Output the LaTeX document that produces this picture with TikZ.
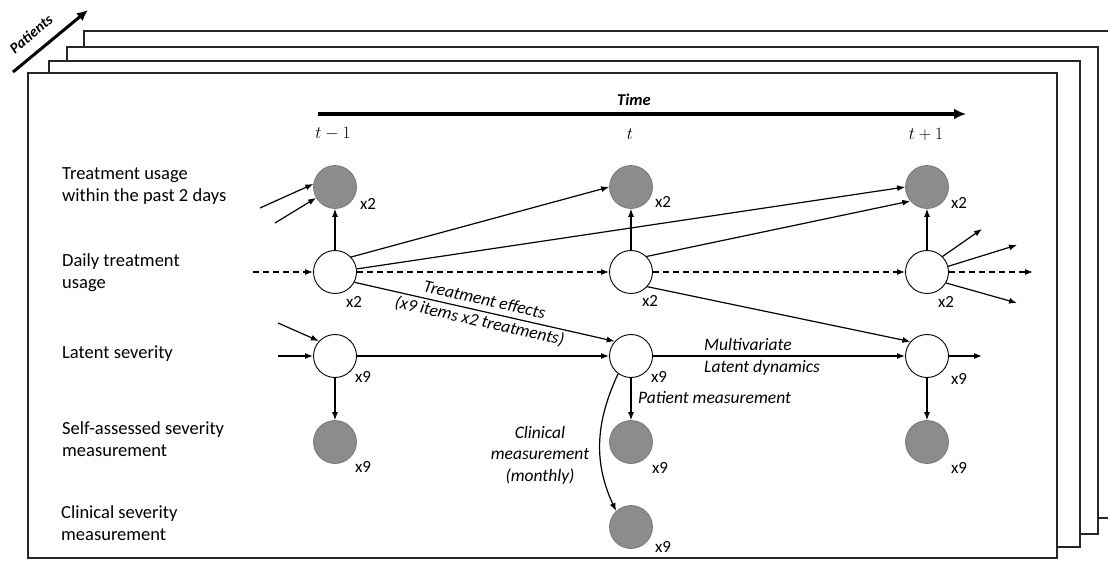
\documentclass[tikz,border=0pt]{standalone}
\usepackage{fontspec}
\setmainfont{Carlito}
\usepackage{amsmath}
\usetikzlibrary{arrows.meta}

\begin{document}
\begin{tikzpicture}[x=1pt,y=-1pt,>={Latex[length=8pt,width=6pt]},
    frame/.style={draw=black!85,line width=1.4pt,fill=white},
    obs/.style={circle,draw=black!55,fill=black!45,minimum size=43pt,inner sep=0pt,line width=0.7pt},
    lat/.style={circle,draw,fill=white,minimum size=43pt,inner sep=0pt,line width=0.9pt},
    rowlbl/.style={font=\fontsize{18.5}{22}\selectfont,align=left,anchor=west,inner sep=0pt},
    mult/.style={font=\fontsize{17}{18}\selectfont,inner sep=0pt},
    note/.style={font=\fontsize{17.5}{21.5}\selectfont\itshape,inner sep=1pt},
    tlbl/.style={font=\fontsize{16}{18}\selectfont,inner sep=0pt},
    link/.style={->,line width=1.2pt},
    dlink/.style={->,line width=1.2pt,dash pattern=on 6pt off 4pt}]
    \useasboundingbox (0,0) rectangle (1108,561);
    \clip (0,0) rectangle (1108,561);

    % stacked patient sheets
    \draw[frame] (84,31) rectangle (1130,518);
    \draw[frame] (67,47) rectangle (1098,534);
    \draw[frame] (49,61) rectangle (1080,547);
    \draw[frame] (28,73) rectangle (1057,558);
    \coordinate (pa) at (13,72);
    \coordinate (pb) at (88,10);
    \draw[->,line width=3pt,>={Latex[length=11pt,width=10pt]}] (pa) -- (pb);
    \node[rotate=40,font=\fontsize{15}{16}\selectfont\bfseries\itshape,inner sep=0pt] (patients) at (31,34) {Patients};

    % time axis
    \coordinate (ta) at (318,114);
    \coordinate (tb) at (966,114);
    \draw[->,line width=3.5pt,>={Latex[length=12pt,width=11pt]}] (ta) -- (tb);
    \node[font=\fontsize{16.5}{18}\selectfont\bfseries\itshape,inner sep=0pt] (time) at (634,100) {Time};
    \node[tlbl] (t1) at (333,134) {$t-1$};
    \node[tlbl] (t2) at (630,134) {$t$};
    \node[tlbl] (t3) at (926,134) {$t+1$};

    % row labels
    \node[rowlbl] (r1) at (62,186) {Treatment usage\\within the past 2 days};
    \node[rowlbl] (r2) at (62,273) {Daily treatment\\usage};
    \node[rowlbl] (r3) at (62,354) {Latent severity};
    \node[rowlbl] (r4) at (62,439) {Self-assessed severity\\measurement};
    \node[rowlbl] (r5) at (61,523) {Clinical severity\\measurement};

    % nodes
    \node[obs] (p1) at (335,187) {};
    \node[obs] (p2) at (631,187) {};
    \node[obs] (p3) at (927,187) {};
    \node[lat] (d1) at (335,272) {};
    \node[lat] (d2) at (631,272) {};
    \node[lat] (d3) at (927,272) {};
    \node[lat] (s1) at (335,356) {};
    \node[lat] (s2) at (631,356) {};
    \node[lat] (s3) at (927,356) {};
    \node[obs] (m1) at (335,442) {};
    \node[obs] (m2) at (631,442) {};
    \node[obs] (m3) at (927,442) {};
    \node[obs] (c2) at (631,527) {};

    % multiplicities
    \node[mult] (kp1) at (368,204) {x2};
    \node[mult] (kp2) at (663,202) {x2};
    \node[mult] (kp3) at (959,203) {x2};
    \node[mult] (kd1) at (354,302) {x2};
    \node[mult] (kd2) at (650,301) {x2};
    \node[mult] (kd3) at (946,302) {x2};
    \node[mult] (ks1) at (363,377) {x9};
    \node[mult] (ks2) at (659,377) {x9};
    \node[mult] (ks3) at (959,379) {x9};
    \node[mult] (km1) at (363,467) {x9};
    \node[mult] (km2) at (660,468) {x9};
    \node[mult] (km3) at (959,468) {x9};
    \node[mult] (kc2) at (663,547) {x9};

    % free ends
    \coordinate (in1) at (260,208);
    \coordinate (in2) at (275,223);
    \coordinate (in3) at (253,272);
    \coordinate (in4) at (278,323);
    \coordinate (in5) at (278,356);
    \coordinate (out1) at (982,229);
    \coordinate (out2) at (1017,245);
    \coordinate (out3) at (1033,272);
    \coordinate (out4) at (1017,303);
    \coordinate (out5) at (982,356);

    % treatment usage
    \draw[link] (in1) -- (p1.172);
    \draw[link] (in2) -- (p1.210);
    \draw[dlink] (in3) -- (d1);
    \draw[dlink] (d1) -- (d2);
    \draw[dlink] (d2) -- (d3);
    \draw[dlink] (d3) -- (out3);
    \draw[link] (d1) -- (p1);
    \draw[link] (d2) -- (p2);
    \draw[link] (d3) -- (p3);
    \draw[link] (d1.43) -- (p2.west);
    \draw[link] (d1.8) -- (p3.west);
    \draw[link] (d2.45) -- (p3.220);
    \draw[link] (d3.45) -- (out1);
    \draw[link] (d3.15) -- (out2);
    \draw[link] (d3.-30) -- (out4);

    % treatment effects
    \draw[link] (d1.-28) -- node[note,sloped,pos=0.49,align=center] (eff) {Treatment effects\\(x9 items x2 treatments)} (s2.138);
    \draw[link] (d2.-42) -- (s3.139);

    % latent dynamics
    \draw[link] (in4) -- (s1.137);
    \draw[link] (in5) -- (s1);
    \draw[link] (s1) -- (s2);
    \draw[link] (s2) -- (s3);
    \draw[link] (s3) -- (out5);
    \node[note,anchor=west,align=left] (dyn) at (703,357) {Multivariate\\Latent dynamics};

    % measurements
    \draw[link] (s1) -- (m1);
    \draw[link] (s2) -- (m2);
    \draw[link] (s3) -- (m3);
    \node[note,anchor=west] (pm) at (637,398) {Patient measurement};
    \draw[link] (s2.234) to[out=245,in=115] (c2.133);
    \node[note,align=center] (cm) at (540,455) {Clinical\\measurement\\(monthly)};
\end{tikzpicture}
\end{document}
